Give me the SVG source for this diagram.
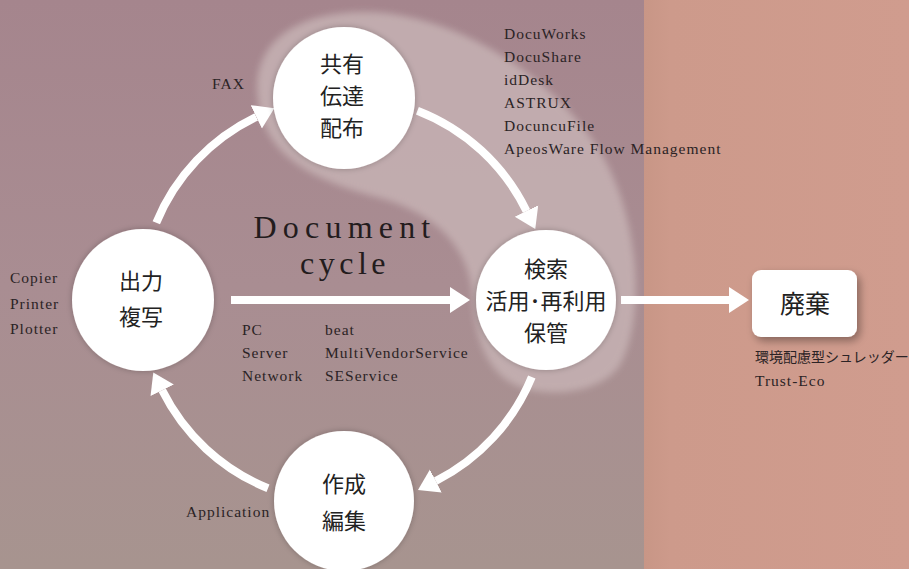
<svg xmlns="http://www.w3.org/2000/svg" width="909" height="569" viewBox="0 0 909 569">
<defs>
  <linearGradient id="bgL" x1="0" y1="0" x2="0" y2="1">
    <stop offset="0" stop-color="#a5858d"/>
    <stop offset="0.5" stop-color="#a98d92"/>
    <stop offset="1" stop-color="#a7948f"/>
  </linearGradient>
  <linearGradient id="bgR" x1="0" y1="0" x2="1" y2="0">
    <stop offset="0" stop-color="#c89686"/>
    <stop offset="0.1" stop-color="#cd9a8b"/>
    <stop offset="1" stop-color="#d09c8e"/>
  </linearGradient>
  <filter id="blur" x="-10%" y="-10%" width="120%" height="120%">
    <feGaussianBlur stdDeviation="3.5"/>
  </filter>
  <filter id="shadow" x="-20%" y="-20%" width="150%" height="150%">
    <feGaussianBlur in="SourceAlpha" stdDeviation="4"/>
    <feOffset dx="3" dy="4" result="b"/>
    <feComponentTransfer><feFuncA type="linear" slope="0.35"/></feComponentTransfer>
    <feMerge><feMergeNode/><feMergeNode in="SourceGraphic"/></feMerge>
  </filter>
  <filter id="glow" x="-20%" y="-20%" width="140%" height="140%">
    <feGaussianBlur in="SourceAlpha" stdDeviation="3"/>
    <feComponentTransfer><feFuncA type="linear" slope="0.25"/></feComponentTransfer>
    <feMerge><feMergeNode/><feMergeNode in="SourceGraphic"/></feMerge>
  </filter>
  <marker id="ah" markerUnits="userSpaceOnUse" markerWidth="24" markerHeight="30" viewBox="0 -15 24 30" refX="0" refY="0" orient="auto">
    <path d="M0,-13 L20,0 L0,13 z" fill="#ffffff"/>
  </marker>
  <style>
    .node { fill: #ffffff; }
    .jp { font-family: "Noto Sans CJK JP", "Noto Sans", sans-serif; fill: #222; text-anchor: middle; }
    .big { font-size: 22px; }
    .lbl { font-family: "Liberation Serif", "DejaVu Serif", serif; font-size: 15.5px; fill: #2b2325; letter-spacing: 1px; }
    .title { font-family: "Liberation Serif", "DejaVu Serif", serif; font-size: 32px; fill: #231c1d; text-anchor: middle; }
    .conn { fill: none; stroke: #ffffff; stroke-width: 8; marker-end: url(#ah); }
  </style>
</defs>

<rect x="0" y="0" width="644" height="569" fill="url(#bgL)"/>
<rect x="644" y="0" width="265" height="569" fill="url(#bgR)"/>

<path d="M 258,100 C 250,40 300,10 370,12 C 460,15 560,80 605,160 C 640,225 645,320 620,365 C 600,395 545,398 515,385 C 485,370 475,335 473,300 C 470,250 440,215 380,198 C 320,182 265,160 258,100 Z" fill="#c6b2b4" opacity="0.85" filter="url(#blur)"/>

<g id="connectors">
  <path class="conn" d="M 156.3,222.7 A 203 203 0 0 1 256.3,116.9"/>
  <path class="conn" d="M 417.4,110.7 A 203 203 0 0 1 526.5,211.0"/>
  <path class="conn" d="M 531.8,377.0 A 203 203 0 0 1 435.8,481.0"/>
  <path class="conn" d="M 268,488.2 A 203 203 0 0 1 162.2,390.3"/>
  <path class="conn" d="M 231,300 L 450,300"/>
  <path class="conn" d="M 621,300 L 729,300"/>
</g>

<g id="node-share">
  <circle class="node" cx="344" cy="98" r="71" filter="url(#glow)"/>
  <text class="jp big" x="342" y="72">共有</text>
  <text class="jp big" x="342" y="104">伝達</text>
  <text class="jp big" x="342" y="136">配布</text>
</g>

<g id="node-output">
  <circle class="node" cx="143" cy="300" r="71" filter="url(#glow)"/>
  <text class="jp big" x="141" y="289">出力</text>
  <text class="jp big" x="141" y="325">複写</text>
</g>

<g id="node-search">
  <circle class="node" cx="546" cy="300" r="70" filter="url(#glow)"/>
  <text class="jp big" x="546" y="277">検索</text>
  <text class="jp big" x="546" y="309" font-size="23">活用･再利用</text>
  <text class="jp big" x="546" y="341">保管</text>
</g>

<g id="node-create">
  <circle class="node" cx="344" cy="501" r="70" filter="url(#glow)"/>
  <text class="jp big" x="344" y="492">作成</text>
  <text class="jp big" x="344" y="529">編集</text>
</g>

<g id="node-dispose">
  <rect class="node" x="752" y="270" width="105" height="67" rx="9" filter="url(#shadow)"/>
  <text class="jp" x="805" y="313" font-size="25">廃棄</text>
</g>

<g id="labels">
  <text class="title" x="345" y="238" letter-spacing="6.2">Document</text>
  <text class="title" x="345" y="274" letter-spacing="4.5">cycle</text>

  <text class="lbl" x="212" y="89" font-size="14" letter-spacing="2">FAX</text>

  <text class="lbl" x="504" y="39">DocuWorks</text>
  <text class="lbl" x="504" y="62">DocuShare</text>
  <text class="lbl" x="504" y="85">idDesk</text>
  <text class="lbl" x="504" y="108">ASTRUX</text>
  <text class="lbl" x="504" y="131">DocuncuFile</text>
  <text class="lbl" x="504" y="154" letter-spacing="1.3">ApeosWare Flow Management</text>

  <text class="lbl" x="10" y="283">Copier</text>
  <text class="lbl" x="10" y="309">Printer</text>
  <text class="lbl" x="10" y="334">Plotter</text>

  <text class="lbl" x="242" y="335">PC</text>
  <text class="lbl" x="242" y="358">Server</text>
  <text class="lbl" x="242" y="381">Network</text>
  <text class="lbl" x="325" y="335">beat</text>
  <text class="lbl" x="325" y="358">MultiVendorService</text>
  <text class="lbl" x="325" y="381">SEService</text>

  <text class="lbl" x="186" y="517">Application</text>

  <text x="755" y="362" font-family="Noto Sans CJK JP, Noto Sans, sans-serif" font-size="14" fill="#2b2325">環境配慮型シュレッダー</text>
  <text class="lbl" x="755" y="386">Trust-Eco</text>
</g>
</svg>
